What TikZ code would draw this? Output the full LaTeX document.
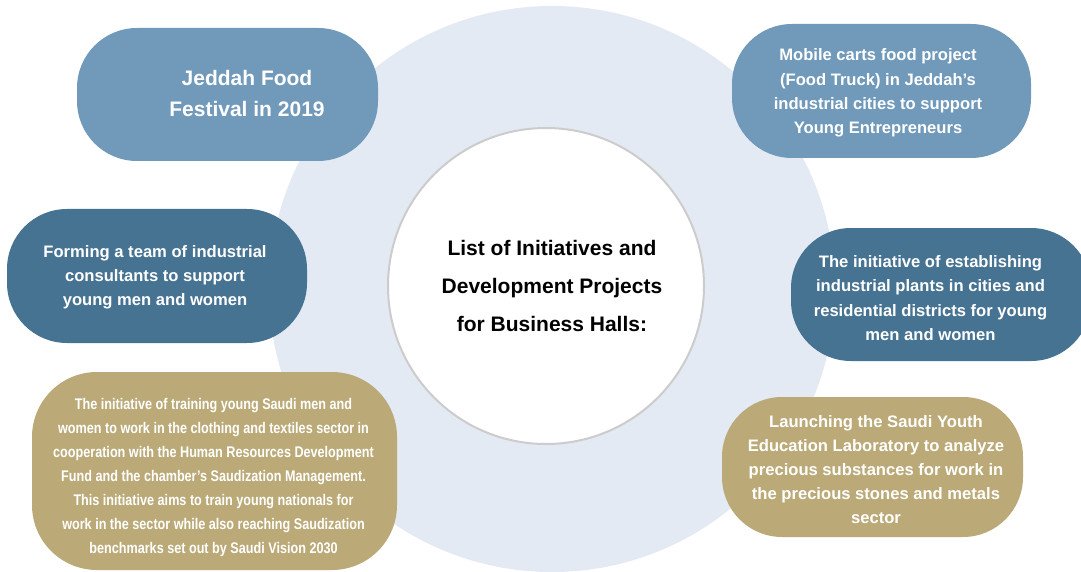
\documentclass[tikz,border=0pt]{standalone}
\usepackage{fontspec}
\setmainfont{Liberation Sans}
\newfontfamily\narrowfont[FakeStretch=0.82]{Liberation Sans}
\definecolor{lightblue}{HTML}{7099BA}
\definecolor{darkblue}{HTML}{477393}
\definecolor{tan}{HTML}{BBAA78}
\definecolor{ringfill}{HTML}{E3EAF3}
\definecolor{ringline}{HTML}{CCCCCC}
\begin{document}
\begin{tikzpicture}[x=1pt,y=-1pt,
  pill/.style={draw=none, rounded corners=60pt, inner sep=0pt},
  lightpill/.style={pill, fill=lightblue},
  darkpill/.style={pill, fill=darkblue},
  tanpill/.style={pill, fill=tan},
  whitetxt/.style={text=white, align=center, inner sep=0pt,
    font=\fontsize{16.6}{24.2}\selectfont\bfseries},
  bigtxt/.style={text=white, align=center, inner sep=0pt,
    font=\fontsize{21}{31}\selectfont\bfseries},
  narrowtxt/.style={text=white, align=center, inner sep=0pt,
    font=\narrowfont\fontsize{15.4}{24}\selectfont\bfseries},
  centertxt/.style={text=black, align=center, inner sep=0pt,
    font=\fontsize{21}{38}\selectfont\bfseries}]
\useasboundingbox (0,0) rectangle (1081,572);
\clip (0,0) rectangle (1081,572);
\fill[white] (0,0) rectangle (1081,572);

% background ring
\node[circle, fill=ringfill, minimum size=566pt, inner sep=0pt] (ring) at (552,289) {};

% boxes
\node[lightpill, minimum width=301pt, minimum height=133pt] (b1) at (227.5,94.5) {};
\node[lightpill, minimum width=299pt, minimum height=134pt] (b2) at (881.5,91) {};
\node[darkpill, minimum width=300pt, minimum height=134pt] (b3) at (157,276) {};
\node[darkpill, minimum width=300pt, minimum height=133pt] (b4) at (941,294.5) {};
\node[tanpill, rounded corners=65pt, minimum width=365pt, minimum height=198pt] (b5) at (214.5,471) {};
\node[tanpill, minimum width=301pt, minimum height=140pt] (b6) at (872.5,467) {};

% center circle
\node[circle, fill=white, draw=ringline, line width=2pt, minimum size=316pt, inner sep=0pt] (hub) at (546,286) {};

% texts
\node[bigtxt] (t1) at (247,93) {Jeddah Food\\Festival in 2019};
\node[whitetxt] (t2) at (878,93) {Mobile carts food project\\(Food Truck) in Jeddah’s\\industrial cities to support\\Young Entrepreneurs};
\node[whitetxt] (t3) at (155,277) {Forming a team of industrial\\consultants to support\\young men and women};
\node[whitetxt] (t4) at (930.5,298) {The initiative of establishing\\industrial plants in cities and\\residential districts for young\\men and women};
\node[narrowtxt] (t5) at (213.5,478) {The initiative of training young Saudi men and\\women to work in the clothing and textiles sector in\\cooperation with the Human Resources Development\\Fund and the chamber’s Saudization Management.\\This initiative aims to train young nationals for\\work in the sector while also reaching Saudization\\benchmarks set out by Saudi Vision 2030};
\node[whitetxt] (t6) at (876,469.5) {Launching the Saudi Youth\\Education Laboratory to analyze\\precious substances for work in\\the precious stones and metals\\sector};
\node[centertxt] (t0) at (552,286) {List of Initiatives and\\Development Projects\\for Business Halls:};
\end{tikzpicture}
\end{document}
